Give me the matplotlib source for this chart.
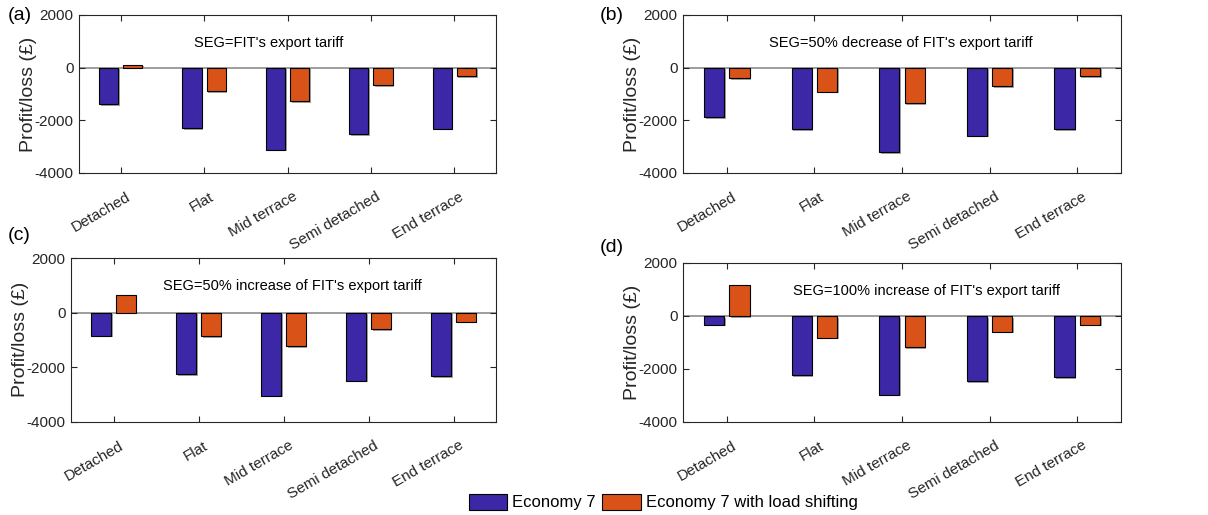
import matplotlib
matplotlib.use("Agg")
import matplotlib.pyplot as plt
from matplotlib.patches import Patch
from matplotlib.transforms import ScaledTranslation
import matplotlib.patheffects as pe
import numpy as np

plt.rcParams['font.family'] = ['Liberation Sans', 'DejaVu Sans']
plt.rcParams['axes.unicode_minus'] = False

categories = ["Detached", "Flat", "Mid terrace", "Semi detached", "End terrace"]
series_names = ["Economy 7", "Economy 7 with load shifting"]

# Profit/loss (£) per house type for each SEG scenario
e7_a = [-1380, -2310, -3120, -2530, -2320]
ls_a = [120, -895, -1280, -670, -335]

e7_b = [-1890, -2340, -3200, -2580, -2340]
ls_b = [-405, -915, -1360, -700, -330]

e7_c = [-850, -2270, -3040, -2490, -2320]
ls_c = [635, -865, -1220, -620, -330]

e7_d = [-335, -2240, -2980, -2460, -2310]
ls_d = [1155, -820, -1170, -600, -335]

titles = ["SEG=FIT's export tariff",
          "SEG=50% decrease of FIT's export tariff",
          "SEG=50% increase of FIT's export tariff",
          "SEG=100% increase of FIT's export tariff"]
panel_tags = ["(a)", "(b)", "(c)", "(d)"]

BLUE = "#3C28A6"
ORANGE = "#D95319"
AXC = "#262626"

W, H = 1208, 515
fig = plt.figure(figsize=(W / 100, H / 100), dpi=100)

# axes boxes in pixels: left, top, right, bottom
boxes = [(79, 15, 496, 173),
         (683, 15, 1121, 173),
         (71, 258, 496, 421.7),
         (683, 263, 1121, 421.7)]
title_pos = [(0.456, 930), (0.498, 930), (0.52, 960), (0.555, 945)]
tag_pos = [(8, 15), (600, 15), (8, 236), (600, 248)]

data = [(e7_a, ls_a), (e7_b, ls_b), (e7_c, ls_c), (e7_d, ls_d)]

x = np.arange(1, len(categories) + 1)
bw = 0.23
off = 0.145
shadow = [pe.SimplePatchShadow(offset=(1.2, -1.2), shadow_rgbFace="#9a9a9a", alpha=0.9),
          pe.Normal()]

for i, ((e7, ls), (l, t, r, b)) in enumerate(zip(data, boxes)):
    ax = fig.add_axes([l / W, 1 - b / H, (r - l) / W, (b - t) / H])
    ax.axhline(0, color="#8c8c8c", lw=1.2, zorder=1)
    for xs, vals, col in ((x - off, e7, BLUE), (x + off, ls, ORANGE)):
        bars = ax.bar(xs, vals, width=bw, color=col, edgecolor="black",
                      linewidth=0.8, zorder=3)
        for p in bars:
            p.set_path_effects(shadow)
    ax.set_xlim(0.5, 5.5)
    ax.set_ylim(-4000, 2000)
    ax.set_yticks([-4000, -2000, 0, 2000])
    ax.set_xticks(x)
    ax.set_xticklabels(categories, rotation=30, ha="right", rotation_mode="anchor")
    ax.tick_params(direction="in", length=4, width=0.8, colors=AXC, labelsize=11,
                   top=True, right=True, pad=4)
    ax.tick_params(axis="x", pad=12)
    shift = ScaledTranslation(5 / 100, 0, fig.dpi_scale_trans)
    for lab in ax.get_xticklabels():
        lab.set_color(AXC)
        lab.set_transform(lab.get_transform() + shift)
    for lab in ax.get_yticklabels():
        lab.set_color(AXC)
    for sp in ax.spines.values():
        sp.set_color(AXC)
        sp.set_linewidth(0.8)
    ax.set_ylabel("Profit/loss (£)", fontsize=14, color=AXC)
    ax.yaxis.set_label_coords(-42 / (r - l), 0.5)
    tx, ty = title_pos[i]
    ax.text(tx, ty, titles[i], transform=ax.get_yaxis_transform(), ha="center",
            va="center", fontsize=10.5, color="black")
    px, py = tag_pos[i]
    fig.text(px / W, 1 - py / H, panel_tags[i], fontsize=14, ha="left", va="center",
             color="black")

handles = [Patch(facecolor=BLUE, edgecolor="black", linewidth=0.8),
           Patch(facecolor=ORANGE, edgecolor="black", linewidth=0.8)]
fig.legend(handles, series_names, loc="center", bbox_to_anchor=(0.549, 1 - 502 / H),
           ncol=2, frameon=False, fontsize=12, handlelength=2.3, handleheight=1.1,
           handletextpad=0.3, columnspacing=0.4, borderpad=0.1)

fig.savefig("out.png", dpi=100)
